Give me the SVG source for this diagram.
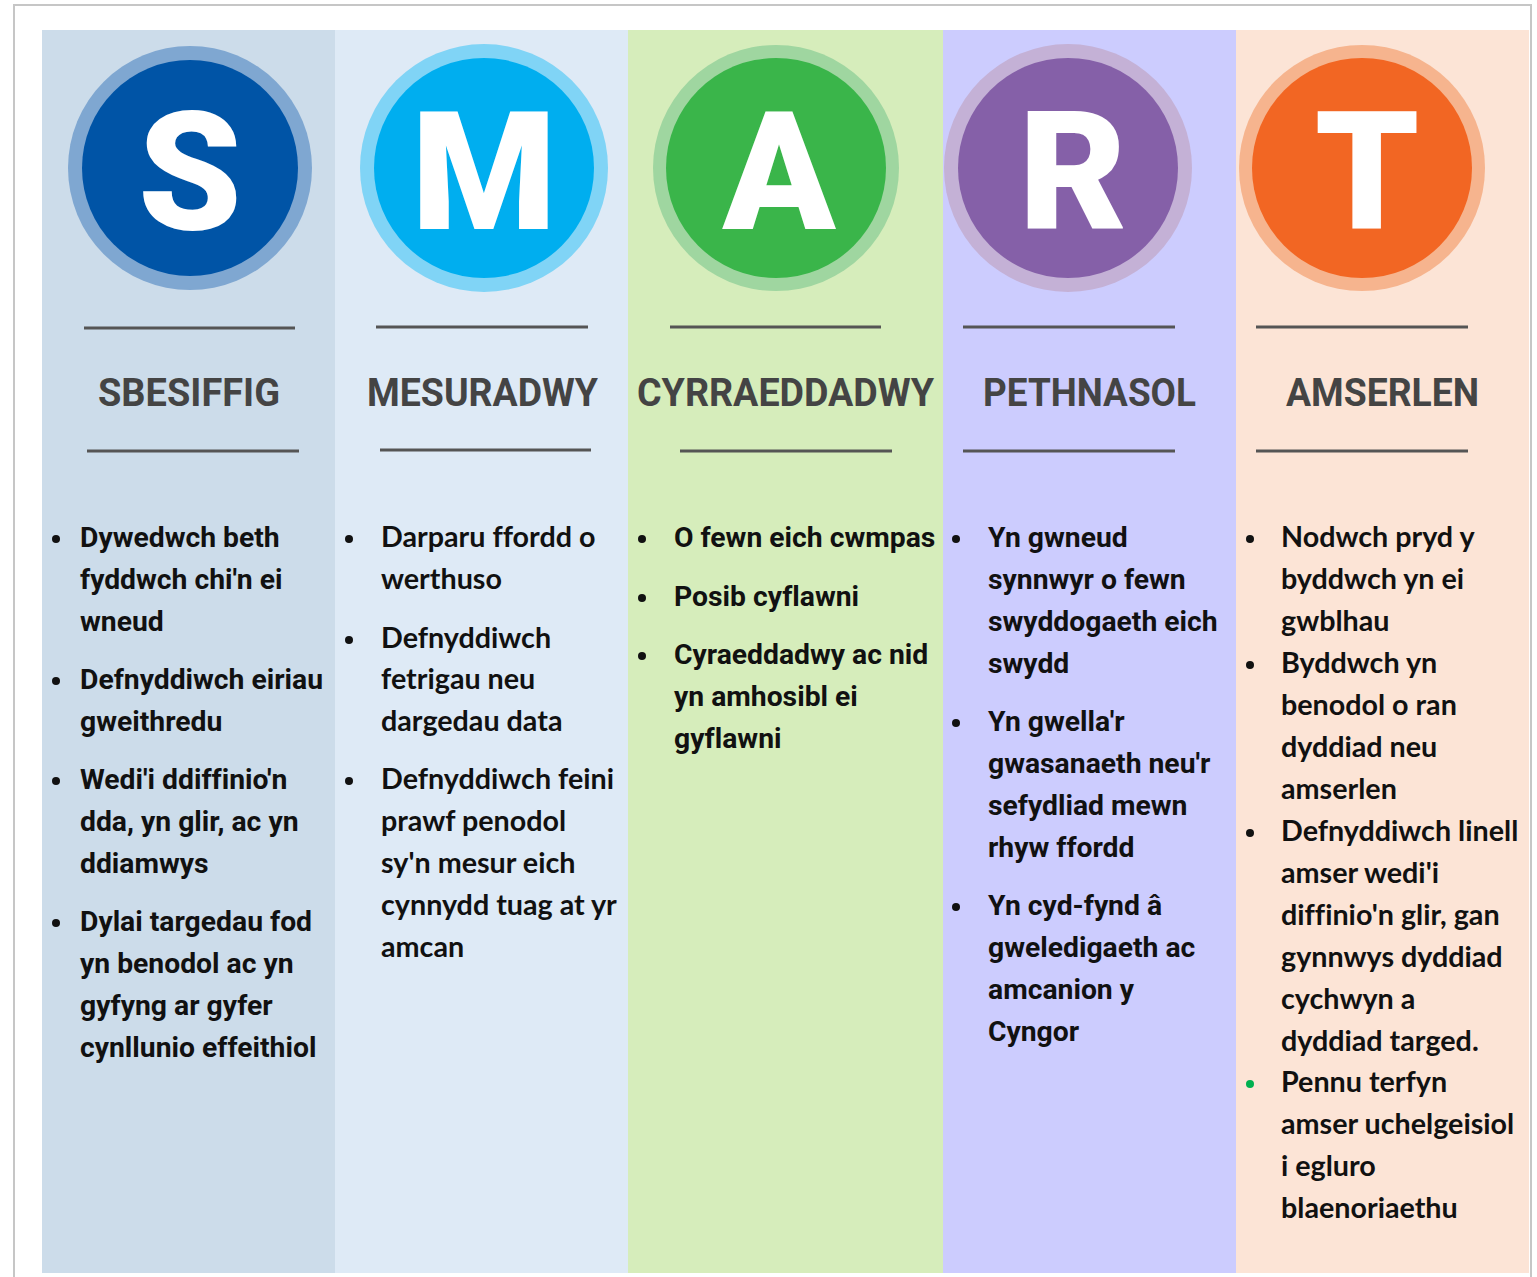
<svg xmlns="http://www.w3.org/2000/svg" width="1537" height="1277" viewBox="0 0 1537 1277">
<style>
.letter{font-family:Roboto,"Liberation Sans",sans-serif;font-weight:900;font-size:166px;fill:#ffffff;text-anchor:middle}
.head{font-family:Roboto,"Liberation Sans",sans-serif;font-weight:700;font-size:39px;fill:#444444}
.rule{stroke:#555555;stroke-width:3}
.b{font-family:Roboto,"Liberation Sans",sans-serif;font-weight:700;font-size:28.3px;fill:#111111;font-variant-ligatures:none}
.l{font-family:Lato,"Liberation Sans",sans-serif;font-weight:700;font-size:28.7px;fill:#111111;font-variant-ligatures:none}
.dot{fill:#111111}
</style>
<rect x="0" y="0" width="1537" height="1277" fill="#ffffff"/>
<path d="M14,1280 V5 H1531 V1280" fill="none" stroke="#c6c6c6" stroke-width="2"/>

<g id="col-s">
<rect x="42" y="30" width="293" height="1243" fill="#ccdcea"/>
<circle cx="190" cy="168" r="122" fill="#7fa7d1"/>
<circle cx="190" cy="168" r="108" fill="#0054a6"/>
<text class="letter" x="190" y="229">S</text>
<line class="rule" x1="84" y1="328" x2="295" y2="328"/>
<text class="head" x="98" y="406" textLength="182" lengthAdjust="spacingAndGlyphs">SBESIFFIG</text>
<line class="rule" x1="87" y1="451" x2="299" y2="451"/>
<circle class="dot" cx="56" cy="539" r="4"/>
<circle class="dot" cx="56" cy="681" r="4"/>
<circle class="dot" cx="56" cy="781" r="4"/>
<circle class="dot" cx="56" cy="923" r="4"/>
<text class="b" x="80" y="547">Dywedwch beth</text>
<text class="b" x="80" y="589">fyddwch chi'n ei</text>
<text class="b" x="80" y="631">wneud</text>
<text class="b" x="80" y="689">Defnyddiwch eiriau</text>
<text class="b" x="80" y="731">gweithredu</text>
<text class="b" x="80" y="789">Wedi'i ddiffinio'n</text>
<text class="b" x="80" y="831">dda, yn glir, ac yn</text>
<text class="b" x="80" y="873">ddiamwys</text>
<text class="b" x="80" y="931">Dylai targedau fod</text>
<text class="b" x="80" y="973">yn benodol ac yn</text>
<text class="b" x="80" y="1015">gyfyng ar gyfer</text>
<text class="b" x="80" y="1057">cynllunio effeithiol</text>
</g>

<g id="col-m">
<rect x="335" y="30" width="293" height="1243" fill="#deeaf6"/>
<circle cx="484" cy="168" r="124" fill="#80d4f6"/>
<circle cx="484" cy="168" r="110" fill="#00aeef"/>
<text class="letter" x="484" y="229">M</text>
<line class="rule" x1="376" y1="327" x2="588" y2="327"/>
<text class="head" x="367" y="406" textLength="231" lengthAdjust="spacingAndGlyphs">MESURADWY</text>
<line class="rule" x1="380" y1="450" x2="591" y2="450"/>
<circle class="dot" cx="349" cy="539" r="4"/>
<circle class="dot" cx="349" cy="640" r="4"/>
<circle class="dot" cx="349" cy="781" r="4"/>
<text class="l" x="381" y="547">Darparu ffordd o</text>
<text class="l" x="381" y="589">werthuso</text>
<text class="l" x="381" y="648">Defnyddiwch</text>
<text class="l" x="381" y="689">fetrigau neu</text>
<text class="l" x="381" y="731">dargedau data</text>
<text class="l" x="381" y="789">Defnyddiwch feini</text>
<text class="l" x="381" y="831">prawf penodol</text>
<text class="l" x="381" y="873">sy'n mesur eich</text>
<text class="l" x="381" y="915">cynnydd tuag at yr</text>
<text class="l" x="381" y="957">amcan</text>
</g>

<g id="col-a">
<rect x="628" y="30" width="315" height="1243" fill="#d6edbb"/>
<circle cx="776" cy="168" r="123" fill="#9fd6a0"/>
<circle cx="776" cy="168" r="110" fill="#3ab54a"/>
<text class="letter" x="779" y="229">A</text>
<line class="rule" x1="670" y1="327" x2="881" y2="327"/>
<text class="head" x="637" y="406" textLength="297" lengthAdjust="spacingAndGlyphs">CYRRAEDDADWY</text>
<line class="rule" x1="680" y1="451" x2="892" y2="451"/>
<circle class="dot" cx="642" cy="539" r="4"/>
<circle class="dot" cx="642" cy="598" r="4"/>
<circle class="dot" cx="642" cy="656" r="4"/>
<text class="b" x="674" y="547">O fewn eich cwmpas</text>
<text class="b" x="674" y="606">Posib cyflawni</text>
<text class="b" x="674" y="664">Cyraeddadwy ac nid</text>
<text class="b" x="674" y="706">yn amhosibl ei</text>
<text class="b" x="674" y="748">gyflawni</text>
</g>

<g id="col-r">
<rect x="943" y="30" width="293" height="1243" fill="#ccccfe"/>
<circle cx="1068" cy="168" r="124" fill="#c4b1d6"/>
<circle cx="1068" cy="168" r="110" fill="#8560a8"/>
<text class="letter" x="1073" y="229">R</text>
<line class="rule" x1="963" y1="327" x2="1175" y2="327"/>
<text class="head" x="983" y="406" textLength="213" lengthAdjust="spacingAndGlyphs">PETHNASOL</text>
<line class="rule" x1="963" y1="451" x2="1175" y2="451"/>
<circle class="dot" cx="956" cy="539" r="4"/>
<circle class="dot" cx="956" cy="723" r="4"/>
<circle class="dot" cx="956" cy="907" r="4"/>
<text class="b" x="988" y="547">Yn gwneud</text>
<text class="b" x="988" y="589">synnwyr o fewn</text>
<text class="b" x="988" y="631">swyddogaeth eich</text>
<text class="b" x="988" y="673">swydd</text>
<text class="b" x="988" y="731">Yn gwella'r</text>
<text class="b" x="988" y="773">gwasanaeth neu'r</text>
<text class="b" x="988" y="815">sefydliad mewn</text>
<text class="b" x="988" y="857">rhyw ffordd</text>
<text class="b" x="988" y="915">Yn cyd-fynd â</text>
<text class="b" x="988" y="957">gweledigaeth ac</text>
<text class="b" x="988" y="999">amcanion y</text>
<text class="b" x="988" y="1041">Cyngor</text>
</g>

<g id="col-t">
<rect x="1236" y="30" width="293" height="1243" fill="#fce4d6"/>
<circle cx="1362" cy="168" r="123" fill="#f6b48e"/>
<circle cx="1362" cy="168" r="110" fill="#f26623"/>
<text class="letter" x="1367" y="229">T</text>
<line class="rule" x1="1256" y1="327" x2="1468" y2="327"/>
<text class="head" x="1286" y="406" textLength="193" lengthAdjust="spacingAndGlyphs">AMSERLEN</text>
<line class="rule" x1="1256" y1="451" x2="1468" y2="451"/>
<circle class="dot" cx="1250" cy="539" r="4"/>
<circle class="dot" cx="1250" cy="665" r="4"/>
<circle class="dot" cx="1250" cy="833" r="4"/>
<circle cx="1250" cy="1084" r="4" fill="#00b050"/>
<text class="l" x="1281" y="547">Nodwch pryd y</text>
<text class="l" x="1281" y="589">byddwch yn ei</text>
<text class="l" x="1281" y="631">gwblhau</text>
<text class="l" x="1281" y="673">Byddwch yn</text>
<text class="l" x="1281" y="715">benodol o ran</text>
<text class="l" x="1281" y="757">dyddiad neu</text>
<text class="l" x="1281" y="799">amserlen</text>
<text class="l" x="1281" y="841">Defnyddiwch linell</text>
<text class="l" x="1281" y="883">amser wedi'i</text>
<text class="l" x="1281" y="925">diffinio'n glir, gan</text>
<text class="l" x="1281" y="967">gynnwys dyddiad</text>
<text class="l" x="1281" y="1009">cychwyn a</text>
<text class="l" x="1281" y="1051">dyddiad targed.</text>
<text class="l" x="1281" y="1092">Pennu terfyn</text>
<text class="l" x="1281" y="1134">amser uchelgeisiol</text>
<text class="l" x="1281" y="1176">i egluro</text>
<text class="l" x="1281" y="1218">blaenoriaethu</text>
</g>

<g id="connectors"/>
</svg>
